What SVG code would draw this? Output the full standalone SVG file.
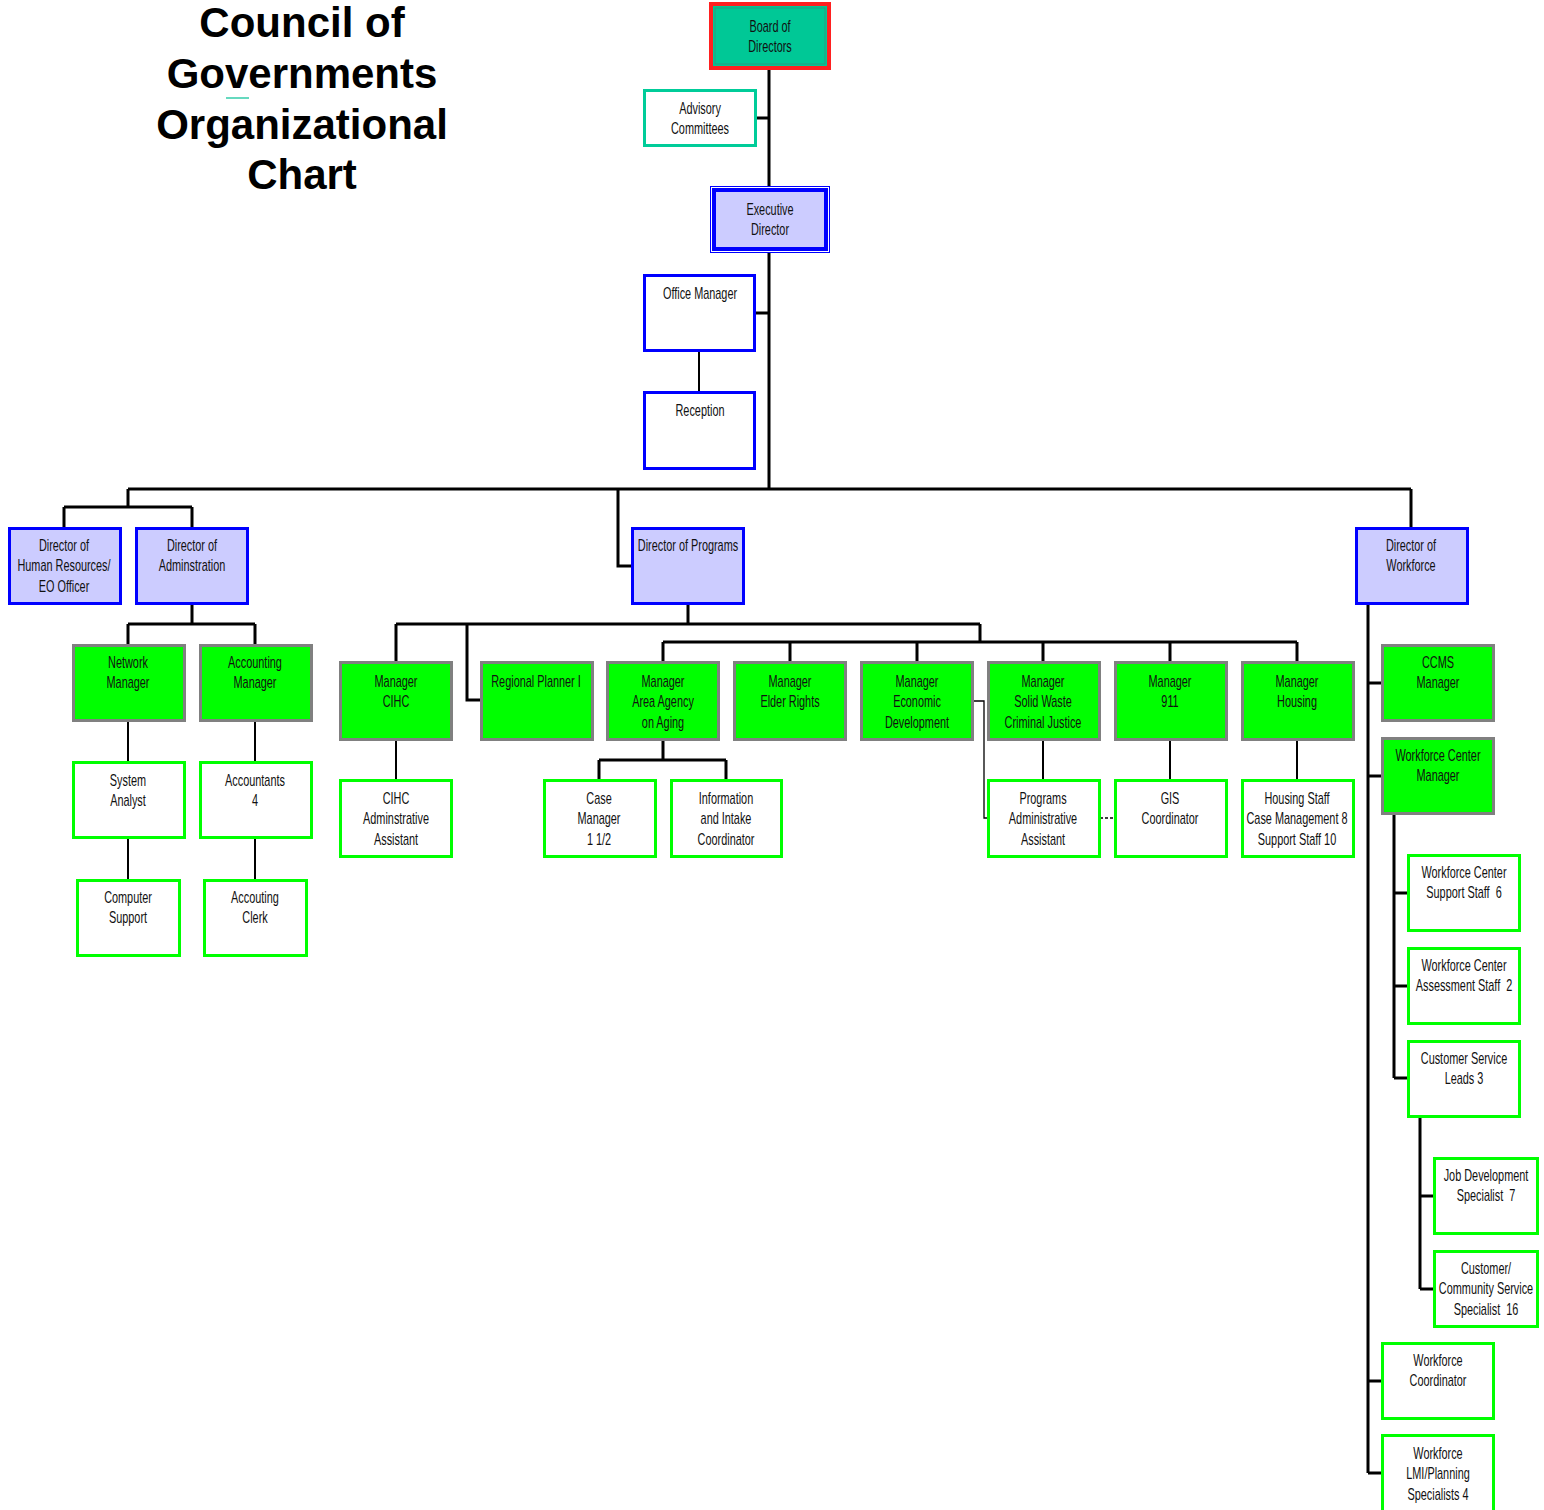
<svg xmlns="http://www.w3.org/2000/svg" width="1544" height="1510" viewBox="0 0 1544 1510">
<style>
.t{font-family:"Liberation Sans",Arial,sans-serif;font-size:17px;fill:#111;text-anchor:middle}
.title{font-family:"Liberation Sans",Arial,sans-serif;font-size:42px;font-weight:bold;fill:#000;text-anchor:middle}
.lav{fill:#CCCCFF;stroke:#0000FF;stroke-width:3}
.wb{fill:#FFFFFF;stroke:#0000FF;stroke-width:3}
.gm{fill:#00FF00;stroke:#808080;stroke-width:3}
.gw{fill:#FFFFFF;stroke:#00FF00;stroke-width:3}
.tw{fill:#FFFFFF;stroke:#00CC99;stroke-width:3}
.c{stroke:#000;stroke-width:3;fill:none}
.c2{stroke:#000;stroke-width:2;fill:none}
.c1{stroke:#000;stroke-width:1.3;fill:none}
</style>
<rect width="1544" height="1510" fill="#FFFFFF"/>
<g id="title">
<text class="title" x="302" y="37">Council of</text>
<text class="title" x="302" y="88">Governments</text>
<text class="title" x="302" y="139">Organizational</text>
<text class="title" x="302" y="189">Chart</text>
<line x1="226" y1="98" x2="249" y2="98" stroke="#33CCAA" stroke-width="1.5"/>
</g>
<g id="connectors">
<path class="c" d="M769 69V186M769 253V489M757 118H769M756 313H769"/>
<path class="c2" d="M699 352V391"/>
<path class="c" d="M128 489H1411M128 489V507M64 507H192M64 507V527M192 507V527M618 489V566H631M1411 489V527"/>
<path class="c" d="M192 605V624M128 624H255M128 624V644M255 624V644"/>
<path class="c2" d="M128 722V761M128 839V879M255 722V761M255 839V879"/>
<path class="c" d="M688 605V624M396 624H980M396 624V661M467 624V700H480M980 624V642M663 642H1297M663 642V661M790 642V661M917 642V661M1043 642V661M1170 642V661M1297 642V661"/>
<path class="c2" d="M396 741V779M1043 741V779M1170 741V779M1297 741V779"/>
<path class="c" d="M663 741V760M599 760H726M599 760V779M726 760V779"/>
<path class="c1" d="M973 701H984V818H987"/>
<path class="c1" d="M1100 818H1114" stroke-dasharray="3 2"/>
<path class="c" d="M1368 605V1473M1368 683H1381M1368 776H1381M1368 1381H1381M1368 1473H1381"/>
<path class="c" d="M1394 815V1078M1394 893H1407M1394 986H1407M1394 1078H1407"/>
<path class="c" d="M1420 1118V1289M1420 1196H1433M1420 1289H1433"/>
</g>
<g id="board">
<rect x="711" y="4" width="118" height="64" fill="#00C896" stroke="#FF2020" stroke-width="4"/>
<rect x="715" y="8" width="110" height="56" fill="none" stroke="#2A9A80" stroke-width="1"/>
<text class="t" transform="translate(770 32) scale(0.64 1)"><tspan x="0">Board of</tspan><tspan x="0" dy="20.5">Directors</tspan></text>
</g>
<g id="advisory">
<rect class="tw" x="644.5" y="90.5" width="111" height="55"/>
<text class="t" transform="translate(700 114) scale(0.64 1)"><tspan x="0">Advisory</tspan><tspan x="0" dy="20.5">Committees</tspan></text>
</g>
<g id="executive">
<rect x="710.5" y="186.5" width="119" height="66" fill="none" stroke="#0000FF" stroke-width="1"/>
<rect x="714" y="190" width="112" height="59" fill="#CCCCFF" stroke="#0000FF" stroke-width="4"/>
<text class="t" transform="translate(770 215) scale(0.64 1)"><tspan x="0">Executive</tspan><tspan x="0" dy="20.5">Director</tspan></text>
</g>
<g id="office-manager">
<rect class="wb" x="644.5" y="275.5" width="110" height="75"/>
<text class="t" transform="translate(700 299) scale(0.64 1)">Office Manager</text>
</g>
<g id="reception">
<rect class="wb" x="644.5" y="392.5" width="110" height="76"/>
<text class="t" transform="translate(700 416) scale(0.64 1)">Reception</text>
</g>
<g id="dir-hr">
<rect class="lav" x="9.5" y="528.5" width="111" height="75"/>
<text class="t" transform="translate(64 551) scale(0.64 1)"><tspan x="0">Director of</tspan><tspan x="0" dy="20.5">Human Resources/</tspan><tspan x="0" dy="20.5">EO Officer</tspan></text>
</g>
<g id="dir-admin">
<rect class="lav" x="136.5" y="528.5" width="111" height="75"/>
<text class="t" transform="translate(192 551) scale(0.64 1)"><tspan x="0">Director of</tspan><tspan x="0" dy="20.5">Adminstration</tspan></text>
</g>
<g id="dir-programs">
<rect class="lav" x="632.5" y="528.5" width="111" height="75"/>
<text class="t" transform="translate(688 551) scale(0.64 1)">Director of Programs</text>
</g>
<g id="dir-workforce">
<rect class="lav" x="1356.5" y="528.5" width="111" height="75"/>
<text class="t" transform="translate(1411 551) scale(0.64 1)"><tspan x="0">Director of</tspan><tspan x="0" dy="20.5">Workforce</tspan></text>
</g>
<g id="network-manager">
<rect class="gm" x="73.5" y="645.5" width="111" height="75"/>
<text class="t" transform="translate(128 668) scale(0.64 1)"><tspan x="0">Network</tspan><tspan x="0" dy="20.5">Manager</tspan></text>
</g>
<g id="accounting-manager">
<rect class="gm" x="200.5" y="645.5" width="111" height="75"/>
<text class="t" transform="translate(255 668) scale(0.64 1)"><tspan x="0">Accounting</tspan><tspan x="0" dy="20.5">Manager</tspan></text>
</g>
<g id="system-analyst">
<rect class="gw" x="73.5" y="762.5" width="111" height="75"/>
<text class="t" transform="translate(128 786) scale(0.64 1)"><tspan x="0">System</tspan><tspan x="0" dy="20.5">Analyst</tspan></text>
</g>
<g id="accountants">
<rect class="gw" x="200.5" y="762.5" width="111" height="75"/>
<text class="t" transform="translate(255 786) scale(0.64 1)"><tspan x="0">Accountants</tspan><tspan x="0" dy="20.5">4</tspan></text>
</g>
<g id="computer-support">
<rect class="gw" x="77.5" y="880.5" width="102" height="75"/>
<text class="t" transform="translate(128 903) scale(0.64 1)"><tspan x="0">Computer</tspan><tspan x="0" dy="20.5">Support</tspan></text>
</g>
<g id="accouting-clerk">
<rect class="gw" x="204.5" y="880.5" width="102" height="75"/>
<text class="t" transform="translate(255 903) scale(0.64 1)"><tspan x="0">Accouting</tspan><tspan x="0" dy="20.5">Clerk</tspan></text>
</g>
<g id="manager-cihc">
<rect class="gm" x="340.5" y="662.5" width="111" height="77"/>
<text class="t" transform="translate(396 687) scale(0.64 1)"><tspan x="0">Manager</tspan><tspan x="0" dy="20.5">CIHC</tspan></text>
</g>
<g id="regional-planner">
<rect class="gm" x="481.5" y="662.5" width="111" height="77"/>
<text class="t" transform="translate(536 687) scale(0.64 1)">Regional Planner I</text>
</g>
<g id="manager-aaa">
<rect class="gm" x="607.5" y="662.5" width="111" height="77"/>
<text class="t" transform="translate(663 687) scale(0.64 1)"><tspan x="0">Manager</tspan><tspan x="0" dy="20.5">Area Agency</tspan><tspan x="0" dy="20.5">on Aging</tspan></text>
</g>
<g id="manager-elder">
<rect class="gm" x="734.5" y="662.5" width="111" height="77"/>
<text class="t" transform="translate(790 687) scale(0.64 1)"><tspan x="0">Manager</tspan><tspan x="0" dy="20.5">Elder Rights</tspan></text>
</g>
<g id="manager-econ">
<rect class="gm" x="861.5" y="662.5" width="111" height="77"/>
<text class="t" transform="translate(917 687) scale(0.64 1)"><tspan x="0">Manager</tspan><tspan x="0" dy="20.5">Economic</tspan><tspan x="0" dy="20.5">Development</tspan></text>
</g>
<g id="manager-solid-waste">
<rect class="gm" x="988.5" y="662.5" width="111" height="77"/>
<text class="t" transform="translate(1043 687) scale(0.64 1)"><tspan x="0">Manager</tspan><tspan x="0" dy="20.5">Solid Waste</tspan><tspan x="0" dy="20.5">Criminal Justice</tspan></text>
</g>
<g id="manager-911">
<rect class="gm" x="1115.5" y="662.5" width="111" height="77"/>
<text class="t" transform="translate(1170 687) scale(0.64 1)"><tspan x="0">Manager</tspan><tspan x="0" dy="20.5">911</tspan></text>
</g>
<g id="manager-housing">
<rect class="gm" x="1242.5" y="662.5" width="111" height="77"/>
<text class="t" transform="translate(1297 687) scale(0.64 1)"><tspan x="0">Manager</tspan><tspan x="0" dy="20.5">Housing</tspan></text>
</g>
<g id="cihc-assistant">
<rect class="gw" x="340.5" y="780.5" width="111" height="76"/>
<text class="t" transform="translate(396 804) scale(0.64 1)"><tspan x="0">CIHC</tspan><tspan x="0" dy="20.5">Adminstrative</tspan><tspan x="0" dy="20.5">Assistant</tspan></text>
</g>
<g id="case-manager">
<rect class="gw" x="544.5" y="780.5" width="111" height="76"/>
<text class="t" transform="translate(599 804) scale(0.64 1)"><tspan x="0">Case</tspan><tspan x="0" dy="20.5">Manager</tspan><tspan x="0" dy="20.5">1 1/2</tspan></text>
</g>
<g id="info-intake">
<rect class="gw" x="671.5" y="780.5" width="110" height="76"/>
<text class="t" transform="translate(726 804) scale(0.64 1)"><tspan x="0">Information</tspan><tspan x="0" dy="20.5">and Intake</tspan><tspan x="0" dy="20.5">Coordinator</tspan></text>
</g>
<g id="programs-assistant">
<rect class="gw" x="988.5" y="780.5" width="111" height="76"/>
<text class="t" transform="translate(1043 804) scale(0.64 1)"><tspan x="0">Programs</tspan><tspan x="0" dy="20.5">Administrative</tspan><tspan x="0" dy="20.5">Assistant</tspan></text>
</g>
<g id="gis-coordinator">
<rect class="gw" x="1115.5" y="780.5" width="111" height="76"/>
<text class="t" transform="translate(1170 804) scale(0.64 1)"><tspan x="0">GIS</tspan><tspan x="0" dy="20.5">Coordinator</tspan></text>
</g>
<g id="housing-staff">
<rect class="gw" x="1242.5" y="780.5" width="111" height="76"/>
<text class="t" transform="translate(1297 804) scale(0.64 1)"><tspan x="0">Housing Staff</tspan><tspan x="0" dy="20.5">Case Management 8</tspan><tspan x="0" dy="20.5">Support Staff 10</tspan></text>
</g>
<g id="ccms-manager">
<rect class="gm" x="1382.5" y="645.5" width="111" height="75"/>
<text class="t" transform="translate(1438 668) scale(0.64 1)"><tspan x="0">CCMS</tspan><tspan x="0" dy="20.5">Manager</tspan></text>
</g>
<g id="workforce-center-manager">
<rect class="gm" x="1382.5" y="738.5" width="111" height="75"/>
<text class="t" transform="translate(1438 761) scale(0.64 1)"><tspan x="0">Workforce Center</tspan><tspan x="0" dy="20.5">Manager</tspan></text>
</g>
<g id="wc-support">
<rect class="gw" x="1408.5" y="855.5" width="111" height="75"/>
<text class="t" transform="translate(1464 878) scale(0.64 1)"><tspan x="0">Workforce Center</tspan><tspan x="0" dy="20.5">Support Staff&#160; 6</tspan></text>
</g>
<g id="wc-assessment">
<rect class="gw" x="1408.5" y="948.5" width="111" height="75"/>
<text class="t" transform="translate(1464 971) scale(0.64 1)"><tspan x="0">Workforce Center</tspan><tspan x="0" dy="20.5">Assessment Staff&#160; 2</tspan></text>
</g>
<g id="cs-leads">
<rect class="gw" x="1408.5" y="1041.5" width="111" height="75"/>
<text class="t" transform="translate(1464 1064) scale(0.64 1)"><tspan x="0">Customer Service</tspan><tspan x="0" dy="20.5">Leads 3</tspan></text>
</g>
<g id="job-dev">
<rect class="gw" x="1434.5" y="1158.5" width="103" height="75"/>
<text class="t" transform="translate(1486 1181) scale(0.64 1)"><tspan x="0">Job Development</tspan><tspan x="0" dy="20.5">Specialist&#160; 7</tspan></text>
</g>
<g id="community-service">
<rect class="gw" x="1434.5" y="1251.5" width="103" height="75"/>
<text class="t" transform="translate(1486 1274) scale(0.64 1)"><tspan x="0">Customer/</tspan><tspan x="0" dy="20.5">Community Service</tspan><tspan x="0" dy="20.5">Specialist&#160; 16</tspan></text>
</g>
<g id="workforce-coordinator">
<rect class="gw" x="1382.5" y="1343.5" width="111" height="75"/>
<text class="t" transform="translate(1438 1366) scale(0.64 1)"><tspan x="0">Workforce</tspan><tspan x="0" dy="20.5">Coordinator</tspan></text>
</g>
<g id="lmi-planning">
<rect class="gw" x="1382.5" y="1435.5" width="111" height="76"/>
<text class="t" transform="translate(1438 1459) scale(0.64 1)"><tspan x="0">Workforce</tspan><tspan x="0" dy="20.5">LMI/Planning</tspan><tspan x="0" dy="20.5">Specialists 4</tspan></text>
</g>
</svg>
